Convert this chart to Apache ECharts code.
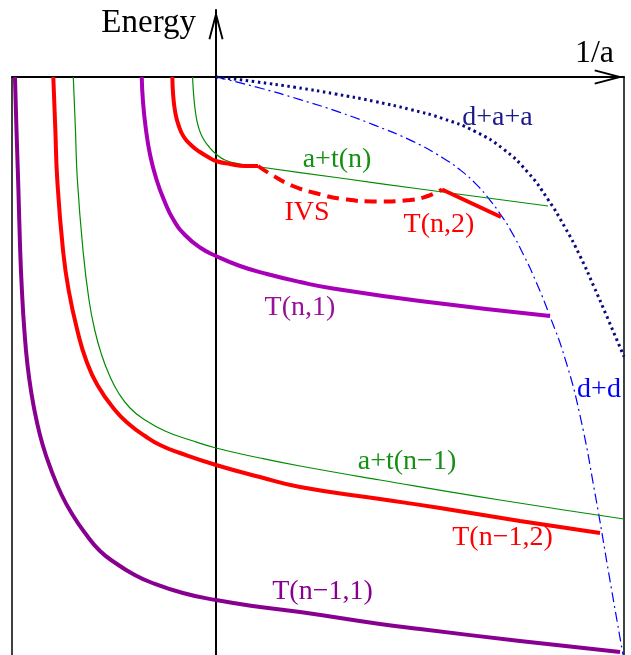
<!DOCTYPE html>
<html lang="en">
<head>
    <meta charset="UTF-8">
    <title>Energy vs 1/a</title>
    <script src="https://cdn.jsdelivr.net/npm/echarts@6.0.0/dist/echarts.min.js"></script>
    <style>
        html, body { margin: 0; padding: 0; background: #fff; }
        #main { width: 631px; height: 655px; }
    </style>
</head>
<body>
    <div id="main"></div>

    <script>
        // axis ranges (x = 1/a, y = Energy)
        var xMin = -2, xMax = 4;
        var yMin = -5.78, yMax = 0.67;

        // curves, [1/a, Energy]
        var tN1_1 = [[-1.971, 0], [-1.956, -0.53], [-1.937, -1.13], [-1.920, -1.73], [-1.903, -2.13],
            [-1.879, -2.53], [-1.848, -2.88], [-1.807, -3.18], [-1.760, -3.43], [-1.699, -3.68],
            [-1.616, -3.93], [-1.513, -4.18], [-1.405, -4.38], [-1.284, -4.56], [-1.137, -4.74],
            [-0.971, -4.87], [-0.814, -4.97], [-0.647, -5.05], [-0.324, -5.16], [0, -5.23],
            [0.431, -5.30], [0.824, -5.35], [1.608, -5.47], [2.0, -5.52], [2.98, -5.64], [3.961, -5.75]];
        var tN1_2 = [[-1.595, 0], [-1.575, -0.53], [-1.556, -1.03], [-1.5, -1.73], [-1.445, -2.13],
            [-1.353, -2.56], [-1.274, -2.83], [-1.163, -3.08], [-0.991, -3.33], [-0.843, -3.48],
            [-0.696, -3.59], [-0.549, -3.68], [-0.353, -3.76], [0, -3.88], [0.431, -4.00],
            [0.824, -4.10], [1.608, -4.22], [2.196, -4.31], [2.98, -4.44], [3.765, -4.56]];
        var atN1 = [[-1.399, 0], [-1.378, -0.53], [-1.359, -1.03], [-1.304, -1.73], [-1.245, -2.23],
            [-1.189, -2.53], [-1.121, -2.78], [-1.046, -2.98], [-0.961, -3.15], [-0.843, -3.31],
            [-0.696, -3.43], [-0.5, -3.54], [-0.255, -3.63], [0, -3.71], [0.431, -3.81],
            [0.824, -3.89], [1.608, -4.03], [2.784, -4.23], [4.0, -4.42]];
        var tN_1 = [[-0.728, 0], [-0.717, -0.23], [-0.690, -0.50], [-0.646, -0.78], [-0.582, -1.03],
            [-0.510, -1.23], [-0.416, -1.43], [-0.304, -1.58], [-0.157, -1.705], [0, -1.79],
            [0.235, -1.89], [0.5, -1.97], [0.824, -2.05], [1.147, -2.115], [2.0, -2.24], [3.275, -2.39]];
        var tN_2a = [[-0.428, 0], [-0.420, -0.18], [-0.400, -0.35], [-0.368, -0.48], [-0.315, -0.60],
            [-0.235, -0.69], [-0.157, -0.75], [-0.078, -0.80], [0, -0.84], [0.137, -0.87],
            [0.284, -0.89], [0.412, -0.89]];
        var ivs = [[0.412, -0.89], [0.549, -0.98], [0.755, -1.09], [0.990, -1.165], [1.245, -1.22],
            [1.578, -1.245], [1.902, -1.23], [2.078, -1.19], [2.216, -1.125]];
        var tN_2b = [[2.216, -1.125], [2.794, -1.40]];
        var atN = [[-0.230, 0], [-0.215, -0.23], [-0.197, -0.38], [-0.172, -0.50], [-0.134, -0.60],
            [-0.078, -0.685], [0, -0.77], [0.088, -0.83], [0.235, -0.87], [0.431, -0.90],
            [1.216, -1.01], [2.0, -1.12], [3.255, -1.29]];
        var daa = [[0, 0], [0.382, -0.047], [0.775, -0.103], [1.167, -0.169], [1.559, -0.245],
            [1.902, -0.324], [2.225, -0.416], [2.539, -0.544], [2.814, -0.718], [3.059, -0.955],
            [3.255, -1.225], [3.422, -1.505], [3.569, -1.79], [3.706, -2.098], [3.833, -2.397],
            [4.0, -2.797]];
        var dd = [[0, 0], [0.431, -0.11], [0.824, -0.226], [1.216, -0.354], [1.559, -0.484],
            [1.931, -0.644], [2.225, -0.809], [2.392, -0.928], [2.559, -1.081], [2.686, -1.231],
            [2.784, -1.366], [2.882, -1.521], [3.029, -1.806], [3.147, -2.07], [3.275, -2.395],
            [3.422, -2.816], [3.569, -3.386], [3.716, -4.166], [3.863, -5.036], [3.99, -5.777]];
        var frame = [[xMin, yMin], [xMin, 0], [xMax, 0], [xMax, yMin]];

        var serif = '"Liberation Serif", "DejaVu Serif", serif';
        var arrowPath = 'path://M8,0 L16,30.5 L14.07,31 L8,7.9 L1.93,31 L0,30.5 Z';

        function curve(data, color, width, type, smooth) {
            return {
                type: 'line',
                data: data,
                showSymbol: false,
                symbol: 'none',
                smooth: smooth === undefined ? 0.5 : smooth,
                lineStyle: { color: color, width: width, type: type || 'solid' }
            };
        }

        function label(text, x, y, color, size) {
            return {
                type: 'text',
                x: x,
                y: y,
                z: 100,
                style: {
                    text: text,
                    fill: color,
                    font: (size || 28) + 'px ' + serif,
                    textAlign: 'center',
                    textVerticalAlign: 'middle'
                }
            };
        }

        var chart = echarts.init(document.getElementById('main'));
        chart.setOption({
            animation: false,
            grid: { left: 12, right: 7, top: 10, bottom: 0 },
            xAxis: {
                type: 'value', min: xMin, max: xMax,
                axisLine: {
                    onZero: true,
                    lineStyle: { color: '#000', width: 2 },
                    symbol: ['none', arrowPath],
                    symbolSize: [15, 30],
                    symbolOffset: [0, -15]
                },
                axisTick: { show: false },
                axisLabel: { show: false },
                splitLine: { show: false }
            },
            yAxis: {
                type: 'value', min: yMin, max: yMax,
                axisLine: {
                    onZero: true,
                    lineStyle: { color: '#000', width: 2 },
                    symbol: ['none', arrowPath],
                    symbolSize: [15, 30],
                    symbolOffset: [0, -15]
                },
                axisTick: { show: false },
                axisLabel: { show: false },
                splitLine: { show: false }
            },
            series: [
                curve(frame, '#000', 1.5, 'solid', false),
                curve(dd, '#0000ff', 1.2, [10, 4, 2, 4]),
                curve(daa, '#0a0a80', 3, [2.5, 3.5]),
                curve(atN1, '#008c00', 1.2),
                curve(atN, '#008c00', 1.2),
                curve(tN1_1, '#88008f', 4),
                curve(tN_1, '#a800b8', 4),
                curve(tN1_2, '#ff0000', 4),
                curve(tN_2a, '#ff0000', 4),
                curve(ivs, '#ff0000', 4, [12, 7]),
                curve(tN_2b, '#ff0000', 4, 'solid', false)
            ],
            graphic: [
                label('Energy', 148.7, 23, '#000', 33),
                label('1/a', 594.5, 54, '#000', 32),
                label('d+a+a', 497.5, 118, '#1a1a8c'),
                label('a+t(n)', 337, 160, '#149014'),
                label('IVS', 307, 213, '#ff0000'),
                label('T(n,2)', 439, 225, '#ff0000'),
                label('T(n,1)', 300, 308, '#9a109a'),
                label('d+d', 599, 390, '#0000ff'),
                label('a+t(n\u22121)', 407, 461.5, '#149014'),
                label('T(n\u22121,2)', 502.5, 538, '#ff0000'),
                label('T(n\u22121,1)', 322.5, 591.5, '#88008f')
            ]
        });
    </script>
</body>
</html>
